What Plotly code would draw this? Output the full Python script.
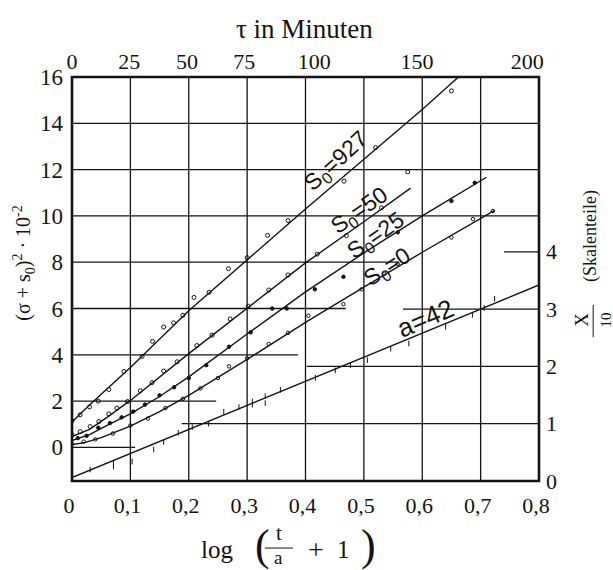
import plotly.graph_objects as go

# ---------------- data ----------------
x_ticks = [0, 0.1, 0.2, 0.3, 0.4, 0.5, 0.6, 0.7, 0.8]
x_ticktext = ["0", "0,1", "0,2", "0,3", "0,4", "0,5", "0,6", "0,7", "0,8"]
tau_pos = [0.0, 0.098, 0.197, 0.295, 0.415, 0.591, 0.78]
tau_labels = ["0", "25", "50", "75", "100", "150", "200"]
y_left_ticks = [0, 2, 4, 6, 8, 10, 12, 14, 16]
y_right_ticks = [0, 1, 2, 3, 4]

# fitted curves (left axis)
s927_lx = [0, 0.02, 0.05, 0.1, 0.2, 0.3, 0.4, 0.5, 0.6, 0.662]
s927_ly = [1.1, 1.6, 2.3, 3.45, 5.9, 8.1, 10.3, 12.45, 14.6, 16.0]
s50_lx = [0, 0.03, 0.06, 0.1, 0.2, 0.3, 0.4, 0.5, 0.58]
s50_ly = [0.47, 0.78, 1.3, 2.03, 4.05, 6.0, 7.97, 9.75, 11.2]
s25_lx = [0, 0.03, 0.06, 0.1, 0.15, 0.2, 0.3, 0.4, 0.5, 0.6, 0.71]
s25_ly = [0.3, 0.55, 0.95, 1.45, 2.2, 3.05, 4.9, 6.72, 8.4, 10.0, 11.67]
s0_lx = [0, 0.02, 0.05, 0.1, 0.15, 0.2, 0.3, 0.4, 0.5, 0.6, 0.724]
s0_ly = [0.12, 0.2, 0.42, 0.92, 1.55, 2.25, 3.8, 5.4, 6.92, 8.43, 10.24]
# a = 42 curve (right axis, X/10)
a42_lx = [0, 0.8]
a42_ly = [0.06, 3.42]

# measured points
s927_px = [0.0, 0.014, 0.03, 0.045, 0.063, 0.089, 0.12, 0.138, 0.157, 0.174, 0.19,
           0.209, 0.235, 0.268, 0.3, 0.335, 0.37, 0.466, 0.52, 0.65]
s927_py = [1.15, 1.41, 1.75, 2.0, 2.5, 3.28, 3.93, 4.58, 5.2, 5.38, 5.71,
           6.48, 6.7, 7.72, 8.2, 9.16, 9.8, 11.5, 12.95, 15.4]
s50_px = [0.0, 0.014, 0.031, 0.046, 0.063, 0.077, 0.095, 0.117, 0.137, 0.157, 0.18,
          0.214, 0.24, 0.271, 0.302, 0.337, 0.37, 0.42, 0.47, 0.53, 0.575]
s50_py = [0.55, 0.68, 0.9, 1.12, 1.45, 1.7, 1.98, 2.45, 2.8, 3.3, 3.7,
          4.4, 4.85, 5.55, 6.1, 6.8, 7.45, 8.35, 9.15, 10.35, 11.9]
s25_px = [0.01, 0.025, 0.045, 0.065, 0.085, 0.105, 0.125, 0.15, 0.175, 0.2, 0.23,
          0.269, 0.306, 0.343, 0.368, 0.416, 0.465, 0.558, 0.65, 0.69]
s25_py = [0.4, 0.5, 0.85, 1.05, 1.3, 1.55, 1.85, 2.25, 2.6, 3.0, 3.55,
          4.35, 4.97, 6.0, 6.0, 6.83, 7.37, 9.29, 10.64, 11.43]
s0_px = [0.0, 0.02, 0.04, 0.07, 0.1, 0.13, 0.16, 0.19, 0.22, 0.25, 0.269, 0.3,
         0.337, 0.37, 0.405, 0.465, 0.496, 0.535, 0.558, 0.65, 0.687, 0.721]
s0_py = [0.15, 0.25, 0.35, 0.6, 0.95, 1.25, 1.7, 2.1, 2.55, 3.0, 3.5, 3.85,
         4.47, 4.95, 5.69, 6.19, 6.83, 7.5, 7.93, 9.07, 9.86, 10.21]
a42_px = [0.0, 0.031, 0.071, 0.071, 0.103, 0.14, 0.157, 0.182, 0.206, 0.234, 0.26,
          0.286, 0.309, 0.309, 0.331, 0.331, 0.357, 0.417, 0.451, 0.477, 0.506,
          0.546, 0.577, 0.64, 0.686, 0.706, 0.724]
a42_py = [0.06, 0.2, 0.32, 0.25, 0.34, 0.55, 0.68, 0.84, 0.94, 1.0, 1.21,
          1.29, 1.33, 1.39, 1.48, 1.36, 1.59, 1.8, 1.93, 2.02, 2.11,
          2.31, 2.4, 2.69, 2.9, 3.02, 3.18]

# staggered grid
v_grid = [0.1, 0.2, 0.3, 0.4, 0.5, 0.6, 0.7]
left_grid_y = [0, 2, 4, 6, 8, 10, 12, 14]
left_grid_xend = [0.108, 0.247, 0.387, 0.469, 0.56, 0.8, 0.8, 0.8]
right_grid_y = [1, 2, 3, 4]
right_grid_xstart = [0.188, 0.402, 0.567, 0.74]

# curve labels
lbl_text = ["S<sub>0</sub>=927", "S<sub>0</sub>=50", "S<sub>0</sub>=25", "S<sub>0</sub>=0", "a=42"]
lbl_x = [0.454, 0.492, 0.521, 0.541, 0.606]
lbl_y = [12.33, 10.21, 9.09, 7.79, 5.59]

# ---------------- figure ----------------
INK = "#141414"
SERIF = "Liberation Serif, Times New Roman, DejaVu Serif, serif"
SANS = "Liberation Sans, Arial, sans-serif"

fig = go.Figure()

def add_series(lx, ly, px, py, symbol, size, yaxis="y"):
    fig.add_trace(go.Scatter(x=lx, y=ly, mode="lines", yaxis=yaxis,
                             line=dict(color=INK, width=1.4), hoverinfo="skip",
                             showlegend=False))
    fig.add_trace(go.Scatter(x=px, y=py, mode="markers", yaxis=yaxis,
                             marker=dict(symbol=symbol, size=size, color=INK,
                                         line=dict(color=INK, width=1)),
                             hoverinfo="skip", showlegend=False))

add_series(s927_lx, s927_ly, s927_px, s927_py, "circle-open", 4)
add_series(s50_lx, s50_ly, s50_px, s50_py, "circle-open", 4)
add_series(s25_lx, s25_ly, s25_px, s25_py, "circle", 3.5)
add_series(s0_lx, s0_ly, s0_px, s0_py, "circle-open", 3.5)
add_series(a42_lx, a42_ly, a42_px, a42_py, "line-ns-open", 4, yaxis="y2")

# helper trace to bind the top tau axis
fig.add_trace(go.Scatter(x=tau_pos, y=[None] * len(tau_pos), xaxis="x2", yaxis="y",
                         mode="markers", marker=dict(opacity=0), hoverinfo="skip",
                         showlegend=False))

shapes = []
for v in v_grid:
    shapes.append(dict(type="line", xref="x", yref="paper", x0=v, x1=v, y0=0, y1=1,
                       line=dict(color=INK, width=1.3), layer="below"))
for yv, xe in zip(left_grid_y, left_grid_xend):
    shapes.append(dict(type="line", xref="x", yref="y", x0=0, x1=xe, y0=yv, y1=yv,
                       line=dict(color=INK, width=1.3), layer="below"))
for yv, xs in zip(right_grid_y, right_grid_xstart):
    shapes.append(dict(type="line", xref="x", yref="y2", x0=xs, x1=0.8, y0=yv, y1=yv,
                       line=dict(color=INK, width=1.3), layer="below"))
# frame
shapes.append(dict(type="rect", xref="paper", yref="paper", x0=0, x1=1, y0=0, y1=1,
                   line=dict(color=INK, width=2.6)))
# fraction bars in axis titles
shapes.append(dict(type="line", xref="paper", yref="paper", x0=0.413, x1=0.473,
                   y0=-0.166, y1=-0.166, line=dict(color=INK, width=1)))
shapes.append(dict(type="line", xref="paper", yref="paper", x0=1.116, x1=1.116,
                   y0=0.356, y1=0.436, line=dict(color=INK, width=1)))

annotations = []
angles = [-42, -35, -35, -33, -23]
sizes = [23, 23, 23, 23, 26]
for t, xv, yv, ang, sz in zip(lbl_text, lbl_x, lbl_y, angles, sizes):
    annotations.append(dict(text=t, x=xv, y=yv, xref="x", yref="y", showarrow=False,
                            textangle=ang, font=dict(family=SANS, size=sz, color=INK)))

def pa(text, x, y, size, angle=0, family=SERIF):
    annotations.append(dict(text=text, x=x, y=y, xref="paper", yref="paper",
                            showarrow=False, textangle=angle, xanchor="center",
                            yanchor="middle",
                            font=dict(family=family, size=size, color=INK)))

pa("τ in Minuten", 0.497, 1.119, 27)
pa("log", 0.3105, -0.170, 25)
pa("(", 0.407, -0.160, 44)
pa("t", 0.443, -0.128, 21)
pa("a", 0.443, -0.190, 19)
pa("+", 0.522, -0.170, 28)
pa("1", 0.582, -0.170, 25)
pa(")", 0.634, -0.160, 44)
pa("(σ + s<sub>0</sub>)<sup>2</sup> · 10<sup>-2</sup>", -0.103, 0.54, 20, -90)
pa("(Skalenteile)", 1.109, 0.606, 18, -90)
pa("X", 1.092, 0.399, 19, -90)
pa("10", 1.143, 0.399, 15, -90)

tickfont = dict(family=SERIF, size=22, color=INK)

fig.update_layout(
    width=613, height=570,
    margin=dict(l=72, r=74, t=77, b=89, pad=0),
    paper_bgcolor="white", plot_bgcolor="white",
    showlegend=False,
    xaxis=dict(range=[0, 0.8], tickvals=x_ticks, ticktext=x_ticktext,
               showgrid=False, zeroline=False, showline=False, ticks="",
               tickfont=tickfont, ticklabelstandoff=9, ticklabelshift=-3,
               fixedrange=True),
    xaxis2=dict(range=[0, 0.8], overlaying="x", side="top", anchor="y",
                tickvals=tau_pos, ticktext=tau_labels,
                showgrid=False, zeroline=False, showline=False, ticks="",
                tickfont=tickfont, ticklabelstandoff=3, fixedrange=True),
    yaxis=dict(range=[-1.45, 16], tickvals=y_left_ticks,
               showgrid=False, zeroline=False, showline=False, ticks="",
               tickfont=dict(family=SERIF, size=23, color=INK),
               ticklabelstandoff=8, fixedrange=True),
    yaxis2=dict(range=[0, 7.05], overlaying="y", side="right", anchor="x",
                tickvals=y_right_ticks,
                showgrid=False, zeroline=False, showline=False, ticks="",
                tickfont=dict(family=SERIF, size=22, color=INK),
                ticklabelstandoff=6, fixedrange=True),
    shapes=shapes,
    annotations=annotations,
)

fig.write_html("out.html")
